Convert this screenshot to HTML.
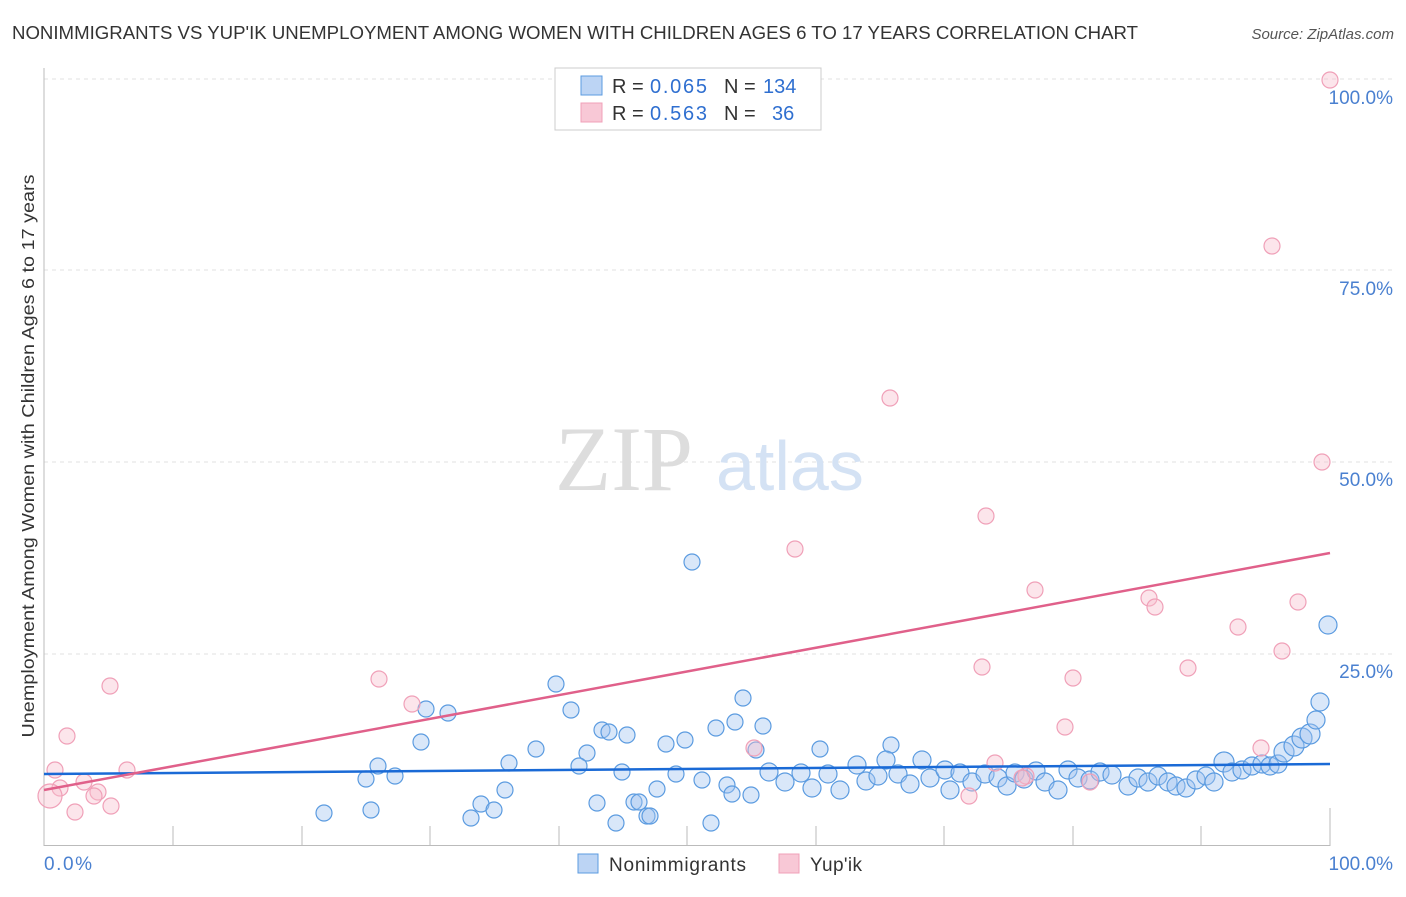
<!DOCTYPE html><html><head><style>body{margin:0;background:#fff;font-family:"Liberation Sans",sans-serif}</style></head><body>
<svg width="1406" height="892" xmlns="http://www.w3.org/2000/svg" font-family="Liberation Sans, sans-serif">
<text x="12" y="39" font-size="18" fill="#333" textLength="1126" lengthAdjust="spacingAndGlyphs">NONIMMIGRANTS VS YUP'IK UNEMPLOYMENT AMONG WOMEN WITH CHILDREN AGES 6 TO 17 YEARS CORRELATION CHART</text>
<text x="1394" y="39" font-size="15" fill="#555" text-anchor="end" font-style="italic">Source: ZipAtlas.com</text>
<g stroke="#e2e2e2" stroke-dasharray="4,4"><line x1="44" x2="1395" y1="79" y2="79"/><line x1="44" x2="1395" y1="270" y2="270"/><line x1="44" x2="1395" y1="462" y2="462"/><line x1="44" x2="1395" y1="654" y2="654"/></g>
<line x1="44" x2="44" y1="68" y2="846" stroke="#bbb"/>
<line x1="44" x2="1330" y1="845.5" y2="845.5" stroke="#bbb"/>
<g stroke="#bbb"><line x1="173" x2="173" y1="826" y2="846"/><line x1="302" x2="302" y1="826" y2="846"/><line x1="430" x2="430" y1="826" y2="846"/><line x1="559" x2="559" y1="826" y2="846"/><line x1="687" x2="687" y1="826" y2="846"/><line x1="816" x2="816" y1="826" y2="846"/><line x1="944" x2="944" y1="826" y2="846"/><line x1="1073" x2="1073" y1="826" y2="846"/><line x1="1201" x2="1201" y1="826" y2="846"/><line x1="1330" x2="1330" y1="808" y2="846"/></g>
<g font-size="19" fill="#4a80d0" text-anchor="end"><text x="1393" y="104">100.0%</text><text x="1393" y="295">75.0%</text><text x="1393" y="486">50.0%</text><text x="1393" y="678">25.0%</text><text x="1393" y="870">100.0%</text></g>
<text x="44" y="870" font-size="19" fill="#4a80d0" textLength="48">0.0%</text>
<text transform="translate(34,456) rotate(-90)" font-size="17.5" fill="#333" text-anchor="middle" textLength="563" lengthAdjust="spacingAndGlyphs">Unemployment Among Women with Children Ages 6 to 17 years</text>
<text x="555" y="490" font-size="92" fill="#ddd" font-family="Liberation Serif, serif">ZIP</text>
<text x="716" y="490" font-size="70" fill="#d4e2f4">atlas</text>
<g fill="rgba(160,196,240,0.4)" stroke="#5b9be0" stroke-width="1.2">
<circle cx="692" cy="562" r="8"/><circle cx="1328" cy="625" r="9"/><circle cx="556" cy="684" r="8"/><circle cx="743" cy="698" r="8"/><circle cx="1320" cy="702" r="9"/><circle cx="426" cy="709" r="8"/><circle cx="448" cy="713" r="8"/><circle cx="571" cy="710" r="8"/><circle cx="735" cy="722" r="8"/><circle cx="763" cy="726" r="8"/><circle cx="716" cy="728" r="8"/><circle cx="602" cy="730" r="8"/><circle cx="627" cy="735" r="8"/><circle cx="609" cy="732" r="8"/><circle cx="685" cy="740" r="8"/><circle cx="666" cy="744" r="8"/><circle cx="421" cy="742" r="8"/><circle cx="536" cy="749" r="8"/><circle cx="820" cy="749" r="8"/><circle cx="891" cy="745" r="8"/><circle cx="756" cy="750" r="8"/><circle cx="587" cy="753" r="8"/><circle cx="378" cy="766" r="8"/><circle cx="509" cy="763" r="8"/><circle cx="579" cy="766" r="8"/><circle cx="366" cy="779" r="8"/><circle cx="395" cy="776" r="8"/><circle cx="622" cy="772" r="8"/><circle cx="676" cy="774" r="8"/><circle cx="702" cy="780" r="8"/><circle cx="727" cy="785" r="8"/><circle cx="505" cy="790" r="8"/><circle cx="657" cy="789" r="8"/><circle cx="732" cy="794" r="8"/><circle cx="751" cy="795" r="8"/><circle cx="324" cy="813" r="8"/><circle cx="371" cy="810" r="8"/><circle cx="481" cy="804" r="8"/><circle cx="494" cy="810" r="8"/><circle cx="597" cy="803" r="8"/><circle cx="634" cy="802" r="8"/><circle cx="639" cy="802" r="8"/><circle cx="471" cy="818" r="8"/><circle cx="647" cy="816" r="8"/><circle cx="616" cy="823" r="8"/><circle cx="711" cy="823" r="8"/><circle cx="650" cy="816" r="8"/>
<circle cx="769" cy="772" r="9"/><circle cx="785" cy="782" r="9"/><circle cx="801" cy="773" r="9"/><circle cx="812" cy="788" r="9"/><circle cx="828" cy="774" r="9"/><circle cx="840" cy="790" r="9"/><circle cx="857" cy="765" r="9"/><circle cx="866" cy="781" r="9"/><circle cx="878" cy="776" r="9"/><circle cx="886" cy="760" r="9"/><circle cx="898" cy="774" r="9"/><circle cx="910" cy="784" r="9"/><circle cx="922" cy="760" r="9"/><circle cx="930" cy="778" r="9"/><circle cx="945" cy="770" r="9"/><circle cx="950" cy="790" r="9"/><circle cx="960" cy="773" r="9"/><circle cx="972" cy="782" r="9"/><circle cx="985" cy="774" r="9"/><circle cx="998" cy="778" r="9"/><circle cx="1007" cy="786" r="9"/><circle cx="1015" cy="773" r="9"/><circle cx="1024" cy="779" r="9"/><circle cx="1036" cy="771" r="9"/><circle cx="1045" cy="782" r="9"/><circle cx="1058" cy="790" r="9"/><circle cx="1068" cy="770" r="9"/><circle cx="1078" cy="778" r="9"/><circle cx="1090" cy="780" r="9"/><circle cx="1100" cy="772" r="9"/><circle cx="1112" cy="775" r="9"/><circle cx="1128" cy="786" r="9"/><circle cx="1138" cy="778" r="9"/><circle cx="1148" cy="782" r="9"/><circle cx="1158" cy="776" r="9"/><circle cx="1168" cy="782" r="9"/><circle cx="1176" cy="786" r="9"/><circle cx="1186" cy="788" r="9"/><circle cx="1196" cy="780" r="9"/><circle cx="1206" cy="776" r="9"/><circle cx="1214" cy="782" r="9"/><circle cx="1224" cy="762" r="10"/><circle cx="1232" cy="772" r="9"/><circle cx="1242" cy="770" r="9"/><circle cx="1252" cy="766" r="9"/><circle cx="1262" cy="764" r="9"/><circle cx="1270" cy="766" r="9"/><circle cx="1278" cy="764" r="9"/><circle cx="1284" cy="752" r="10"/><circle cx="1294" cy="746" r="10"/><circle cx="1302" cy="738" r="10"/><circle cx="1310" cy="734" r="10"/><circle cx="1316" cy="720" r="9"/>
</g>
<g fill="rgba(248,190,205,0.4)" stroke="#f0a0b8" stroke-width="1.2">
<circle cx="1330" cy="80" r="8"/><circle cx="1272" cy="246" r="8"/><circle cx="890" cy="398" r="8"/><circle cx="1322" cy="462" r="8"/><circle cx="986" cy="516" r="8"/><circle cx="795" cy="549" r="8"/><circle cx="1035" cy="590" r="8"/><circle cx="1149" cy="598" r="8"/><circle cx="1155" cy="607" r="8"/><circle cx="1298" cy="602" r="8"/><circle cx="1238" cy="627" r="8"/><circle cx="1282" cy="651" r="8"/><circle cx="982" cy="667" r="8"/><circle cx="1188" cy="668" r="8"/><circle cx="1073" cy="678" r="8"/><circle cx="379" cy="679" r="8"/><circle cx="110" cy="686" r="8"/><circle cx="412" cy="704" r="8"/><circle cx="1065" cy="727" r="8"/><circle cx="67" cy="736" r="8"/><circle cx="754" cy="748" r="8"/><circle cx="1261" cy="748" r="8"/><circle cx="995" cy="763" r="8"/><circle cx="55" cy="770" r="8"/><circle cx="127" cy="770" r="8"/><circle cx="1026" cy="776" r="8"/><circle cx="84" cy="782" r="8"/><circle cx="60" cy="788" r="8"/><circle cx="98" cy="792" r="8"/><circle cx="1090" cy="782" r="8"/><circle cx="50" cy="796" r="12"/><circle cx="94" cy="796" r="8"/><circle cx="969" cy="796" r="8"/><circle cx="111" cy="806" r="8"/><circle cx="75" cy="812" r="8"/><circle cx="1022" cy="778" r="8"/>
</g>
<line x1="44" y1="774" x2="1330" y2="764" stroke="#1a6ad6" stroke-width="2.5"/>
<line x1="44" y1="790" x2="1330" y2="553" stroke="#e0608a" stroke-width="2.5"/>
<rect x="555" y="68" width="266" height="62" fill="#fff" stroke="#ccc"/>
<rect x="581" y="76" width="21" height="19" fill="#bcd4f4" stroke="#5b9be0"/>
<rect x="581" y="103" width="21" height="19" fill="#f8c8d6" stroke="#f0a0b8"/>
<g font-size="20"><text x="612" y="93" fill="#333">R = </text><text x="650" y="93" fill="#2f6fd0" textLength="57">0.065</text><text x="724" y="93" fill="#333">N = </text><text x="763" y="93" fill="#2f6fd0">134</text>
<text x="612" y="120" fill="#333">R = </text><text x="650" y="120" fill="#2f6fd0" textLength="57">0.563</text><text x="724" y="120" fill="#333">N = </text><text x="772" y="120" fill="#2f6fd0">36</text></g>
<rect x="578" y="854" width="20" height="19" fill="#bcd4f4" stroke="#5b9be0"/><text x="609" y="871" font-size="19" fill="#333" textLength="137">Nonimmigrants</text>
<rect x="779" y="854" width="20" height="19" fill="#f8c8d6" stroke="#f0a0b8"/><text x="810" y="871" font-size="19" fill="#333" textLength="52">Yup'ik</text>
</svg></body></html>
